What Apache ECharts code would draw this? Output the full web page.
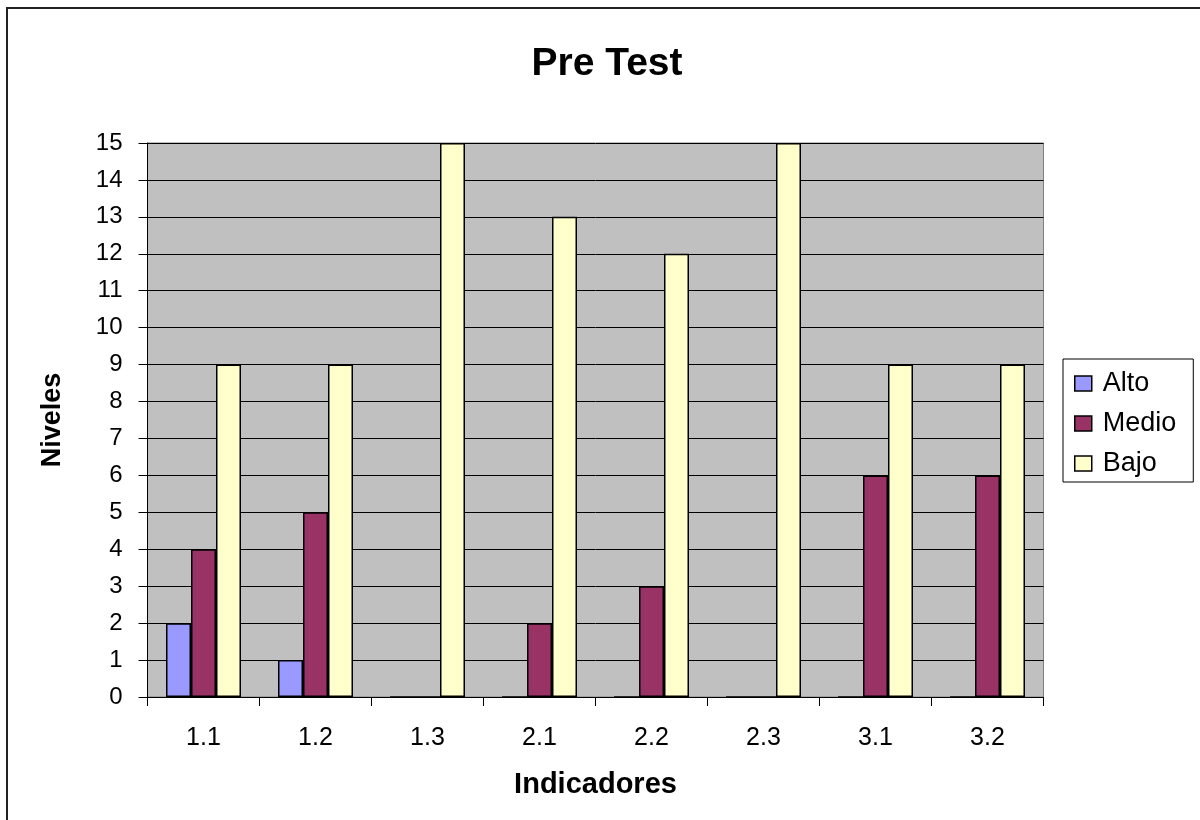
<!DOCTYPE html>
<html>
<head>
<meta charset="utf-8">
<script src="https://cdn.jsdelivr.net/npm/echarts@6/dist/echarts.min.js"></script>
<style>
html,body{margin:0;padding:0;background:#fff;}
#chart{width:1200px;height:820px;}
</style>
</head>
<body>
<div id="chart"></div>
<script>
const categories = ['1.1','1.2','1.3','2.1','2.2','2.3','3.1','3.2'];
const alto  = [2, 1, 0, 0, 0, 0, 0, 0];
const medio = [4, 5, 0, 2, 3, 0, 6, 6];
const bajo  = [9, 9, 15, 13, 12, 15, 9, 9];
const seriesNames = ['Alto', 'Medio', 'Bajo'];
const seriesColors = ['#9999FF', '#993366', '#FFFFCC'];

const FONT = 'Liberation Sans, Arial, sans-serif';
const chart = echarts.init(document.getElementById('chart'), null, {renderer: 'canvas'});

const dataSets = [alto, medio, bajo];
const option = {
  backgroundColor: '#ffffff',
  animation: false,
  title: {
    text: 'Pre Test',
    left: 602,
    top: 40,
    textAlign: 'center',
    textStyle: {fontFamily: FONT, fontSize: 39, fontWeight: 'bold', color: '#000'}
  },
  graphic: [{
    type: 'rect',
    shape: {x: 7, y: 8, width: 1400, height: 1000},
    style: {fill: 'none', stroke: '#222', lineWidth: 2},
    silent: true,
    z: 100
  }],
  legend: {
    orient: 'vertical',
    left: 1063,
    top: 359,
    padding: [11, 17, 5, 11],
    itemWidth: 17,
    itemHeight: 15,
    itemGap: 13,
    borderColor: '#000',
    borderWidth: 1,
    backgroundColor: '#fff',
    icon: 'rect',
    itemStyle: {borderColor: '#000', borderWidth: 1.5},
    textStyle: {fontFamily: FONT, fontSize: 27, color: '#000', lineHeight: 26, padding: [0, 0, 0, 6]},
    data: seriesNames
  },
  grid: {
    left: 147.5,
    right: 156.5,
    top: 143,
    bottom: 123,
    show: true,
    backgroundColor: '#C0C0C0',
    borderColor: '#808080',
    borderWidth: 1,
    containLabel: false
  },
  xAxis: {
    type: 'category',
    data: categories,
    name: 'Indicadores',
    nameLocation: 'middle',
    nameGap: 73,
    nameTextStyle: {fontFamily: FONT, fontSize: 29, fontWeight: 'bold', color: '#000'},
    axisLine: {show: true, lineStyle: {color: '#000', width: 1}},
    axisTick: {show: true, length: 9, alignWithLabel: false, lineStyle: {color: '#000'}},
    axisLabel: {fontFamily: FONT, fontSize: 25, color: '#000', margin: 29},
    splitLine: {show: false}
  },
  yAxis: {
    type: 'value',
    min: 0,
    max: 15,
    interval: 1,
    name: 'Niveles',
    nameLocation: 'middle',
    nameGap: 81,
    nameRotate: 90,
    nameTextStyle: {fontFamily: FONT, fontSize: 27, fontWeight: 'bold', color: '#000'},
    axisLine: {show: true, lineStyle: {color: '#000', width: 1}},
    axisTick: {show: true, length: 9, lineStyle: {color: '#000'}},
    axisLabel: {fontFamily: FONT, fontSize: 24, color: '#000', margin: 25},
    splitLine: {show: true, lineStyle: {color: '#000', width: 1}}
  },
  series: seriesNames.map((name, i) => ({
    name: name,
    type: 'bar',
    data: dataSets[i],
    barWidth: 25,
    barGap: '0%',
    itemStyle: {color: seriesColors[i], borderColor: '#000', borderWidth: 1.5}
  }))
};
chart.setOption(option);
</script>
</body>
</html>
